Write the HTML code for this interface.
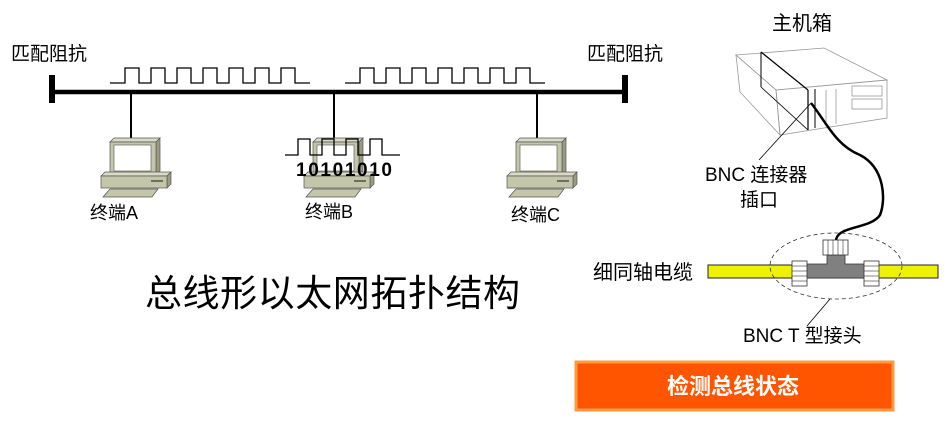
<!DOCTYPE html>
<html><head><meta charset="utf-8"><style>
body{margin:0;background:#fff;width:948px;height:419px;overflow:hidden}
text{font-family:"Liberation Sans","Noto Sans CJK SC",sans-serif}
</style></head><body>
<svg width="948" height="419" viewBox="0 0 948 419" xmlns="http://www.w3.org/2000/svg">
<defs>
<g id="pc">
  <polygon points="2,4 6,0 52,0 48,4" fill="#d9dbc4" stroke="#555" stroke-width="0.7"/>
  <polygon points="48,4 52,0 52,33 48,37" fill="#9a9c80" stroke="#555" stroke-width="0.7"/>
  <rect x="2" y="4" width="46" height="33" fill="#c4c6aa" stroke="#555" stroke-width="0.7"/>
  <rect x="6" y="7" width="37" height="26" fill="#fff" stroke="#666" stroke-width="0.7"/>
  <polygon points="-7,38 -3,34 63,34 59,38" fill="#d9dbc4" stroke="#555" stroke-width="0.7"/>
  <polygon points="59,38 63,34 63,46 59,50" fill="#9a9c80" stroke="#555" stroke-width="0.7"/>
  <rect x="-7" y="38" width="66" height="12" fill="#c4c6aa" stroke="#555" stroke-width="0.7"/>
  <line x1="43" y1="43" x2="55" y2="43" stroke="#333" stroke-width="1.2"/>
  <polygon points="-5,59 2,51 50,51 44,59" fill="#c4c6aa" stroke="#555" stroke-width="0.7"/>
</g>
</defs>
<line x1="52" y1="92" x2="625" y2="92" stroke="#000" stroke-width="4.5"/>
<rect x="49" y="75" width="6" height="28" fill="#000"/>
<rect x="622" y="75" width="6" height="28" fill="#000"/>
<text x="11" y="60" font-size="19">匹配阻抗</text>
<text x="587" y="60" font-size="19">匹配阻抗</text>
<path d="M110,83 H125 V68 H139 V83 H151 V68 H165 V83 H177 V68 H191 V83 H203 V68 H217 V83 H229 V68 H243 V83 H255 V68 H269 V83 H281 V68 H295 V83 H310" fill="none" stroke="#000" stroke-width="1.3"/>
<path d="M345,83 H360 V68 H374 V83 H386 V68 H400 V83 H412 V68 H426 V83 H438 V68 H452 V83 H464 V68 H478 V83 H490 V68 H504 V83 H516 V68 H530 V83 H545" fill="none" stroke="#000" stroke-width="1.3"/>
<line x1="131" y1="92" x2="131" y2="138" stroke="#000" stroke-width="2"/>
<line x1="334" y1="92" x2="334" y2="138" stroke="#000" stroke-width="2"/>
<line x1="537" y1="92" x2="537" y2="138" stroke="#000" stroke-width="2"/>
<use href="#pc" x="108" y="138"/>
<use href="#pc" x="311" y="138"/>
<use href="#pc" x="514" y="138"/>
<path d="M285,155 H298 V139 H310 V155 H322 V139 H334 V155 H346 V139 H358 V155 H370 V139 H382 V155 H400" fill="none" stroke="#000" stroke-width="1.3"/>
<text x="296" y="176" font-size="19" font-weight="bold" textLength="96">10101010</text>
<text x="90" y="219" font-size="18">终端A</text>
<text x="305" y="218" font-size="18">终端B</text>
<text x="511" y="221" font-size="18">终端C</text>
<text x="145" y="306" font-size="37" textLength="375">总线形以太网拓扑结构</text>
<text x="772" y="30" font-size="20">主机箱</text>
<g fill="none" stroke="#999" stroke-width="0.8">
<polygon points="736,55 824,48 887,80 776,90"/>
<polygon points="736,55 776,90 780,135 740,92"/>
<polygon points="776,90 887,80 887,118 780,135"/>
<rect x="852" y="86" width="30" height="10"/><rect x="852" y="99" width="30" height="10"/>
<line x1="826" y1="90" x2="826" y2="125"/><line x1="836" y1="89" x2="836" y2="124"/>
</g>
<line x1="761" y1="52" x2="808" y2="90" stroke="#000" stroke-width="1.2"/>
<line x1="761" y1="52" x2="761" y2="87" stroke="#000" stroke-width="1"/>
<line x1="808" y1="90" x2="808" y2="130" stroke="#000" stroke-width="1.2"/>
<line x1="815" y1="89" x2="815" y2="128" stroke="#000" stroke-width="1"/>
<line x1="761" y1="87" x2="808" y2="130" stroke="#000" stroke-width="0.8"/>
<line x1="759" y1="160" x2="811" y2="103" stroke="#000" stroke-width="0.8"/>
<path d="M811,103 C825,120 835,145 860,155 C885,168 886,200 880,215 C870,230 835,225 836,242" fill="none" stroke="#000" stroke-width="2.5"/>
<text x="705" y="181" font-size="19">BNC 连接器</text>
<text x="740" y="206" font-size="19">插口</text>
<rect x="708" y="265" width="230" height="13" fill="#eef200" stroke="#222" stroke-width="1"/>
<text x="593" y="279" font-size="20">细同轴电缆</text>
<path d="M827,255 H845 V264 H870 V278 H800 V264 H827 Z" fill="#808080" stroke="#333" stroke-width="0.8"/>
<g fill="#fff" stroke="#333" stroke-width="0.8">
<rect x="823" y="240" width="25" height="15"/>
<rect x="792" y="261" width="15" height="25"/>
<rect x="864" y="261" width="15" height="25"/>
</g>
<g stroke="#333" stroke-width="0.6">
<line x1="828" y1="240" x2="828" y2="255"/><line x1="833" y1="240" x2="833" y2="255"/><line x1="838" y1="240" x2="838" y2="255"/><line x1="843" y1="240" x2="843" y2="255"/>
<line x1="792" y1="266" x2="807" y2="266"/><line x1="792" y1="271" x2="807" y2="271"/><line x1="792" y1="276" x2="807" y2="276"/><line x1="792" y1="281" x2="807" y2="281"/>
<line x1="864" y1="266" x2="879" y2="266"/><line x1="864" y1="271" x2="879" y2="271"/><line x1="864" y1="276" x2="879" y2="276"/><line x1="864" y1="281" x2="879" y2="281"/>
</g>
<ellipse cx="836" cy="266" rx="66" ry="33" fill="none" stroke="#333" stroke-width="0.8" stroke-dasharray="4,3"/>
<line x1="807" y1="326" x2="830" y2="299" stroke="#000" stroke-width="0.8"/>
<text x="743" y="342" font-size="19">BNC T 型接头</text>
<rect x="576" y="362" width="317" height="48" fill="#ff5500" stroke="#ff9a40" stroke-width="3"/>
<text x="733" y="394" font-size="22" font-weight="bold" fill="#fff" text-anchor="middle">检测总线状态</text>
</svg>
</body></html>
